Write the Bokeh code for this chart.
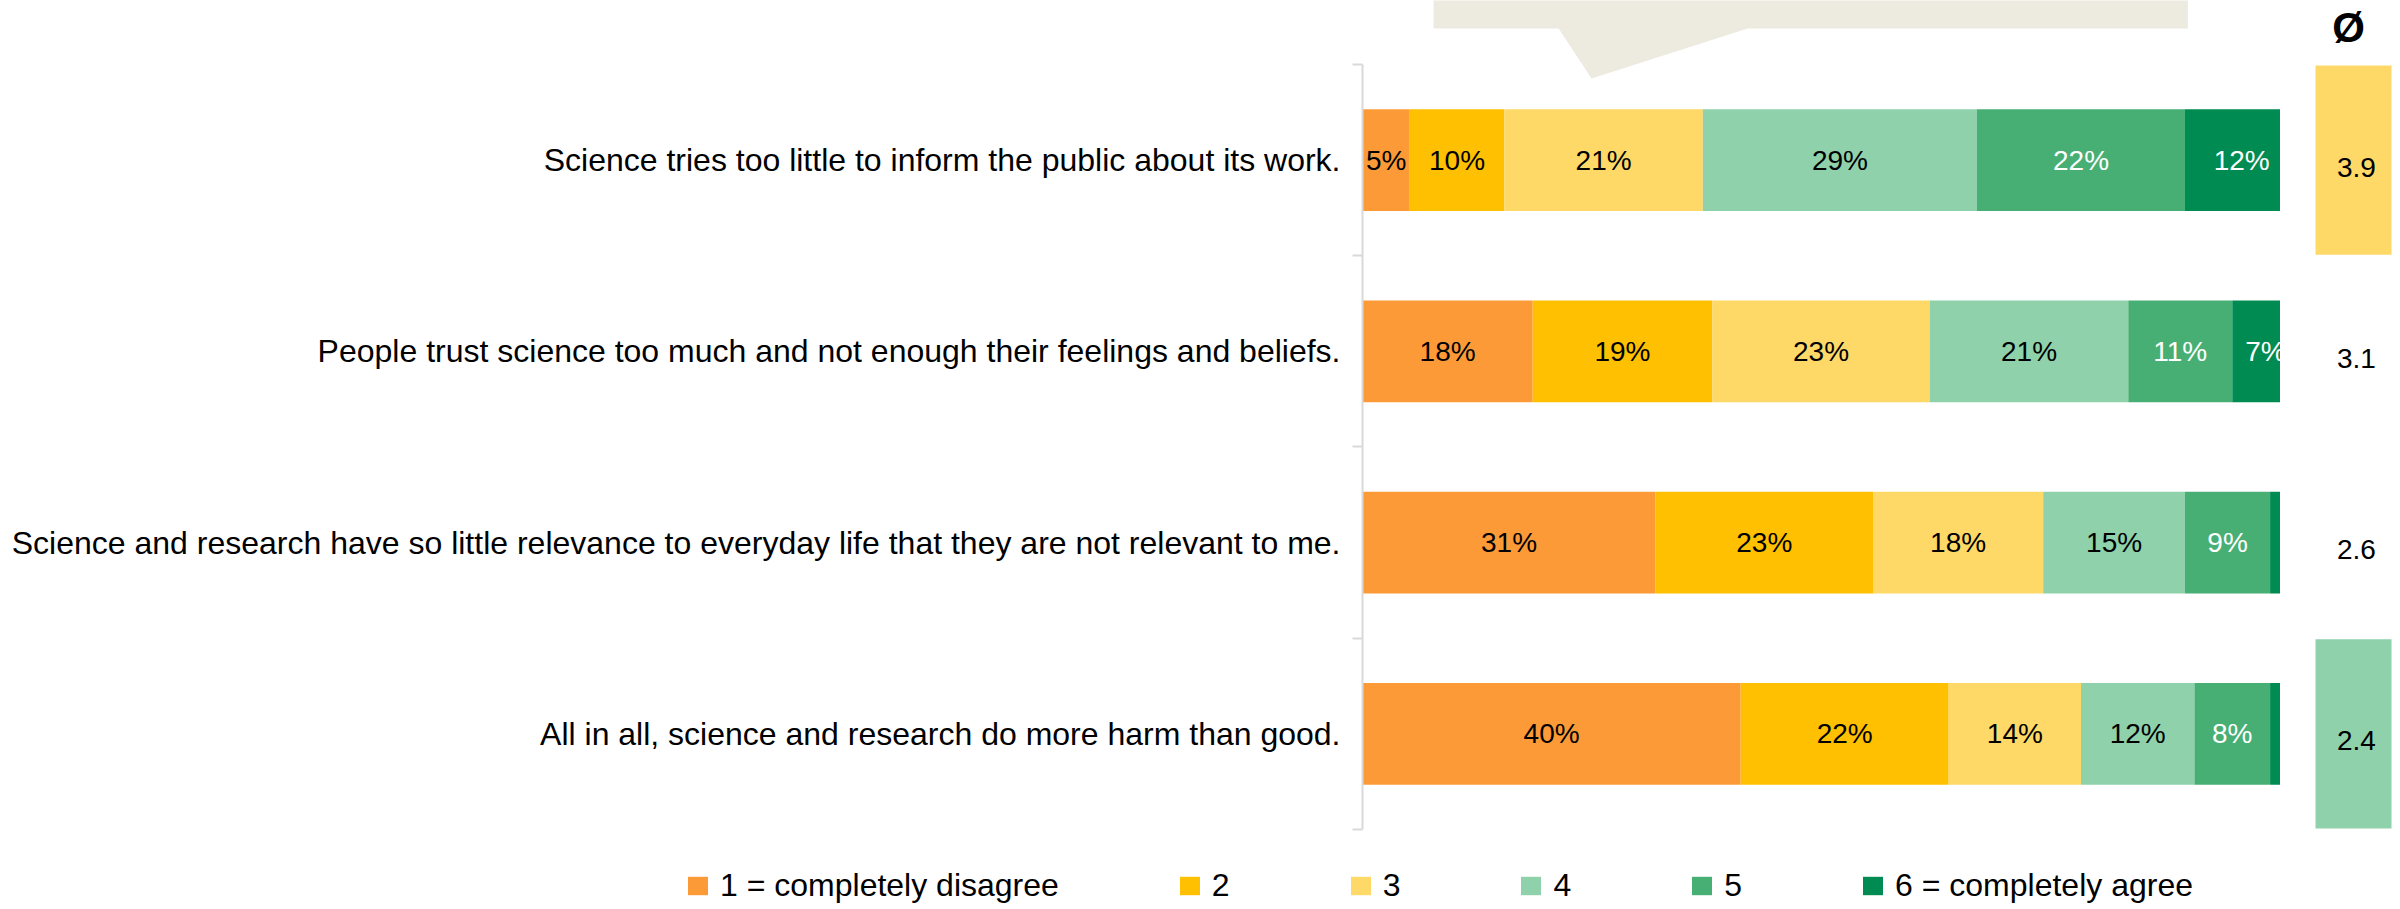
from bokeh.plotting import figure
from bokeh.models import ColumnDataSource, Range1d, FixedTicker, Legend, LegendItem
from bokeh.layouts import row, column
from bokeh.embed import file_html
from bokeh.resources import INLINE
from bokeh.core.properties import value

# ---------------- data ----------------
statements = [
    "Science tries too little to inform the public about its work.",
    "People trust science too much and not enough their feelings and beliefs.",
    "Science and research have so little relevance to everyday life that they are not relevant to me.",
    "All in all, science and research do more harm than good.",
]
levels = ["1 = completely disagree", "2", "3", "4", "5", "6 = completely agree"]
s1 = [5, 18, 31, 40]
s2 = [10, 19, 23, 22]
s3 = [21, 23, 18, 14]
s4 = [29, 21, 15, 12]
s5 = [22, 11, 9, 8]
s6 = [12, 7, 4, 4]
means = [3.9, 3.1, 2.6, 2.4]

# ---------------- styles ----------------
colors = ["#fd9a38", "#fec000", "#fed968", "#8ed1aa", "#47af74", "#008b52"]
label_colors = ["black", "black", "black", "black", "white", "white"]
mean_fill = ["#fed968", None, None, "#8ed1aa"]
FONT = "Liberation Sans"
H_MAIN = 850
H_LEG = 59
Y_RANGE = (4.110, -0.3346)

series = [s1, s2, s3, s4, s5, s6]
keys = ["l1", "l2", "l3", "l4", "l5", "l6"]
n = len(statements)
centers = [i + 0.5 for i in range(n)]

src = ColumnDataSource(dict(y=centers, **{k: s for k, s in zip(keys, series)}))

p = figure(width=2280, height=H_MAIN, x_range=Range1d(0, 97.1), y_range=Range1d(*Y_RANGE),
           output_backend="svg", toolbar_location=None, x_axis_location=None,
           min_border_left=1362, min_border_right=0, min_border_top=0, min_border_bottom=0,
           outline_line_color=None)
p.xgrid.visible = False
p.ygrid.visible = False

# callout shape (decoration at top)
p.patch(x=[7.51, 87.3, 87.3, 40.74, 24.23, 20.74, 7.51],
        y=[-0.40, -0.40, -0.188, -0.188, 0.073, -0.188, -0.188],
        fill_color="#edeae0", line_color=None)

renderers = p.hbar_stack(keys, y="y", height=0.533, fill_color=colors, line_color=None, source=src)

# percentage labels
tx, ty, tt, tc = [], [], [], []
for i in range(n):
    cum = 0
    for j, s in enumerate(series):
        v = s[i]
        if v >= 5:
            tx.append(cum + v / 2)
            ty.append(centers[i])
            tt.append(f"{v}%")
            tc.append(label_colors[j])
        cum += v
p.text(x="x", y="y", text="t", text_color="c",
       source=ColumnDataSource(dict(x=tx, y=ty, t=tt, c=tc)),
       text_align="center", text_baseline="middle",
       text_font=value(FONT), text_font_size="28px")

ax = p.yaxis[0]
ax.ticker = FixedTicker(ticks=centers, minor_ticks=list(range(n + 1)))
ax.major_label_overrides = {c: s for c, s in zip(centers, statements)}
ax.major_tick_out = 0
ax.major_tick_in = 0
ax.minor_tick_out = 10
ax.minor_tick_in = 0
ax.minor_tick_line_color = "#d9d9d9"
ax.minor_tick_line_width = 2
ax.axis_line_color = "#d9d9d9"
ax.axis_line_width = 2
ax.bounds = (0, n)
ax.major_label_text_font = FONT
ax.major_label_text_font_size = "32px"
ax.major_label_text_color = "black"
ax.major_label_standoff = 12

# ---------------- mean column ----------------
m = figure(width=120, height=H_MAIN, x_range=Range1d(0, 1), y_range=Range1d(*Y_RANGE),
           output_backend="svg", toolbar_location=None, x_axis_location=None, y_axis_location=None,
           min_border=0, outline_line_color=None)
m.xgrid.visible = False
m.ygrid.visible = False
msrc = ColumnDataSource(dict(y=centers, t=[f"{v:.1f}" for v in means],
                             f=[c if c else "white" for c in mean_fill]))
m.hbar(y="y", left=0.2917, right=0.925, height=0.99, fill_color="f", line_color=None, source=msrc)
m.text(x=0.633, y="y", text="t", source=msrc, text_align="center", text_baseline="middle",
       y_offset=7, text_font=value(FONT), text_font_size="28px", text_color="black")
m.text(x=[0.567], y=[-0.193], text=["Ø"], text_align="center", text_baseline="middle",
       text_font=value(FONT), text_font_size="42px", text_font_style="bold", text_color="black")

# ---------------- legend strip ----------------
# same stacked bars, kept outside this strip's visible range, only to carry the legend
lf = figure(width=2400, height=H_LEG, x_range=Range1d(0, 97.1), y_range=Range1d(100, 101),
            output_backend="svg", toolbar_location=None, x_axis_location=None, y_axis_location=None,
            min_border=0, outline_line_color=None)
lf.xgrid.visible = False
lf.ygrid.visible = False
leg_renderers = lf.hbar_stack(keys, y="y", height=0.533, fill_color=colors, line_color=None, source=src)
legend = Legend(items=[LegendItem(label=lv, renderers=[r]) for lv, r in zip(levels, leg_renderers)],
                orientation="horizontal", location=(685, 5),
                border_line_color=None, background_fill_alpha=0,
                margin=0, padding=0, spacing=118,
                glyph_width=25, glyph_height=23, label_standoff=10, label_width=0,
                label_text_font=FONT, label_text_font_size="32px", label_text_color="black")
lf.add_layout(legend)

layout = column(row(p, m), lf)
open("out.html", "w").write(file_html(layout, INLINE))
